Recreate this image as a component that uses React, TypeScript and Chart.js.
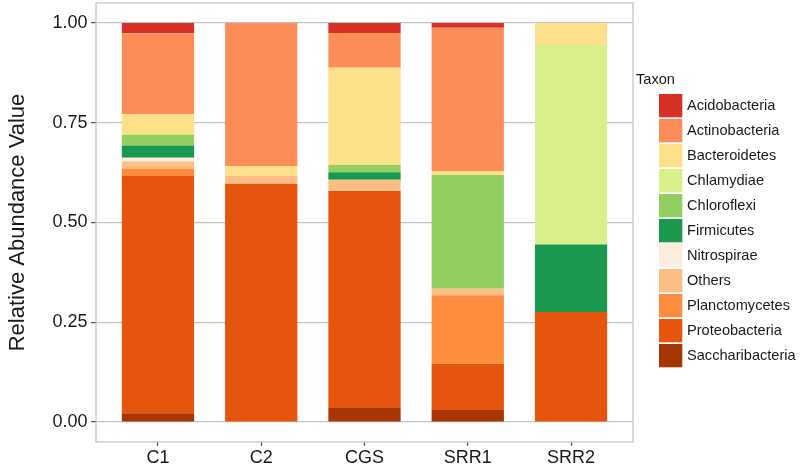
import React, { useEffect, useRef } from "react";
import { Chart, registerables } from "chart.js";

Chart.register(...registerables);

// ---- data ----
const categories = ["C1", "C2", "CGS", "SRR1", "SRR2"];
const categoryPositions = [1, 2, 3, 4, 5];
const yTicks = [0, 0.25, 0.5, 0.75, 1];

// stacking order: bottom to top
const taxa = [
  "Saccharibacteria",
  "Proteobacteria",
  "Planctomycetes",
  "Others",
  "Nitrospirae",
  "Firmicutes",
  "Chloroflexi",
  "Chlamydiae",
  "Bacteroidetes",
  "Actinobacteria",
  "Acidobacteria",
];

const saccharibacteria = [0.022, 0, 0.035, 0.03, 0];
const proteobacteria = [0.596, 0.597, 0.544, 0.116, 0.276];
const planctomycetes = [0.017, 0, 0, 0.172, 0];
const others = [0.018, 0.02, 0.028, 0.016, 0];
const nitrospirae = [0.009, 0, 0, 0, 0];
const firmicutes = [0.031, 0, 0.019, 0, 0.169];
const chloroflexi = [0.027, 0, 0.018, 0.285, 0];
const chlamydiae = [0, 0, 0, 0, 0.5];
const bacteroidetes = [0.051, 0.024, 0.244, 0.01, 0.055];
const actinobacteria = [0.203, 0.359, 0.087, 0.359, 0];
const acidobacteria = [0.026, 0, 0.025, 0.012, 0];

const seriesValues = [
  saccharibacteria,
  proteobacteria,
  planctomycetes,
  others,
  nitrospirae,
  firmicutes,
  chloroflexi,
  chlamydiae,
  bacteroidetes,
  actinobacteria,
  acidobacteria,
];

// ---- styles ----
const taxonColors = [
  "#a63603",
  "#e6550d",
  "#fd8d3c",
  "#fdbe85",
  "#feedde",
  "#1a9850",
  "#91cf60",
  "#d9ef8b",
  "#fee08b",
  "#fc8d59",
  "#d73027",
];

const FONT = "'Liberation Sans', Arial, Helvetica, sans-serif";
const TEXT = "#1a1a1a";
const GRID = "#c2c2c2";

const panelAndLegend = {
  id: "panelAndLegend",
  afterDatasetsDraw(chart: any) {
    const { ctx, chartArea: a } = chart;
    ctx.save();
    ctx.strokeStyle = GRID;
    ctx.lineWidth = 1.2;
    ctx.strokeRect(a.left, a.top, a.right - a.left, a.bottom - a.top);
    ctx.restore();
  },
  afterDraw(chart: any) {
    const { ctx } = chart;
    const ds = chart.data.datasets;
    ctx.save();
    ctx.font = `14.6px ${FONT}`;
    ctx.fillStyle = TEXT;
    ctx.textBaseline = "middle";
    ctx.textAlign = "left";
    ctx.fillText("Taxon", 636, 80);
    const keyX = 659;
    const keyTop = 94;
    const pitch = 25;
    const keySize = 23.3;
    for (let i = 0; i < ds.length; i++) {
      const d = ds[ds.length - 1 - i];
      const y = keyTop + i * pitch;
      ctx.fillStyle = d.backgroundColor;
      ctx.fillRect(keyX, y, keySize, keySize);
      ctx.fillStyle = TEXT;
      ctx.fillText(d.label, 687, y + keySize / 2 + 0.5);
    }
    ctx.restore();
  },
};

export default function App() {
  const canvasRef = useRef<HTMLCanvasElement | null>(null);

  useEffect(() => {
    if (!canvasRef.current) return;
    const datasets = taxa.map((name, i) => ({
      label: name,
      data: categoryPositions.map((x, j) => ({ x, y: seriesValues[i][j] })),
      backgroundColor: taxonColors[i],
      borderWidth: 0,
      barPercentage: 0.7,
      categoryPercentage: 1,
    }));

    const chart = new Chart(canvasRef.current, {
      type: "bar",
      data: { datasets },
      plugins: [panelAndLegend],
      options: {
        animation: false,
        responsive: true,
        maintainAspectRatio: false,
        layout: { padding: { top: 3, right: 167, left: 0, bottom: 0 } },
        plugins: {
          legend: { display: false },
          tooltip: { enabled: false },
        },
        scales: {
          x: {
            type: "linear",
            stacked: true,
            offset: false,
            min: 0.4,
            max: 5.6,
            afterBuildTicks: (s: any) => {
              s.ticks = categoryPositions.map((v) => ({ value: v }));
            },
            afterFit: (s: any) => {
              s.height = 26;
              s.paddingLeft = 0;
              s.paddingRight = 0;
            },
            ticks: {
              autoSkip: false,
              maxRotation: 0,
              padding: 1,
              color: TEXT,
              font: { family: FONT, size: 18 },
              callback: (v: any) => categories[Math.round(Number(v)) - 1] ?? "",
            },
            grid: {
              offset: false,
              drawOnChartArea: false,
              drawTicks: true,
              tickLength: 4,
              tickColor: "#4d4d4d",
              tickWidth: 1.2,
            },
            border: { display: false },
          },
          y: {
            type: "linear",
            stacked: true,
            min: -0.05,
            max: 1.05,
            afterBuildTicks: (s: any) => {
              s.ticks = yTicks.map((v) => ({ value: v }));
            },
            afterFit: (s: any) => {
              s.width = 96;
              s.paddingTop = 0;
              s.paddingBottom = 0;
            },
            ticks: {
              padding: 3.5,
              color: TEXT,
              font: { family: FONT, size: 18 },
              callback: (v: any) => Number(v).toFixed(2),
            },
            grid: {
              color: GRID,
              lineWidth: 1.2,
              drawTicks: true,
              tickLength: 5,
              tickColor: "#4d4d4d",
              tickWidth: 1.2,
            },
            border: { display: false },
            title: {
              display: true,
              text: "Relative Abundance Value",
              color: TEXT,
              font: { family: FONT, size: 22 },
              padding: { top: 5, bottom: 0 },
            },
          },
        },
      },
    });
    return () => chart.destroy();
  }, []);

  return (
    <div style={{ position: "absolute", left: 0, top: 0, width: 800, height: 468, background: "#fff" }}>
      <canvas ref={canvasRef} />
    </div>
  );
}
